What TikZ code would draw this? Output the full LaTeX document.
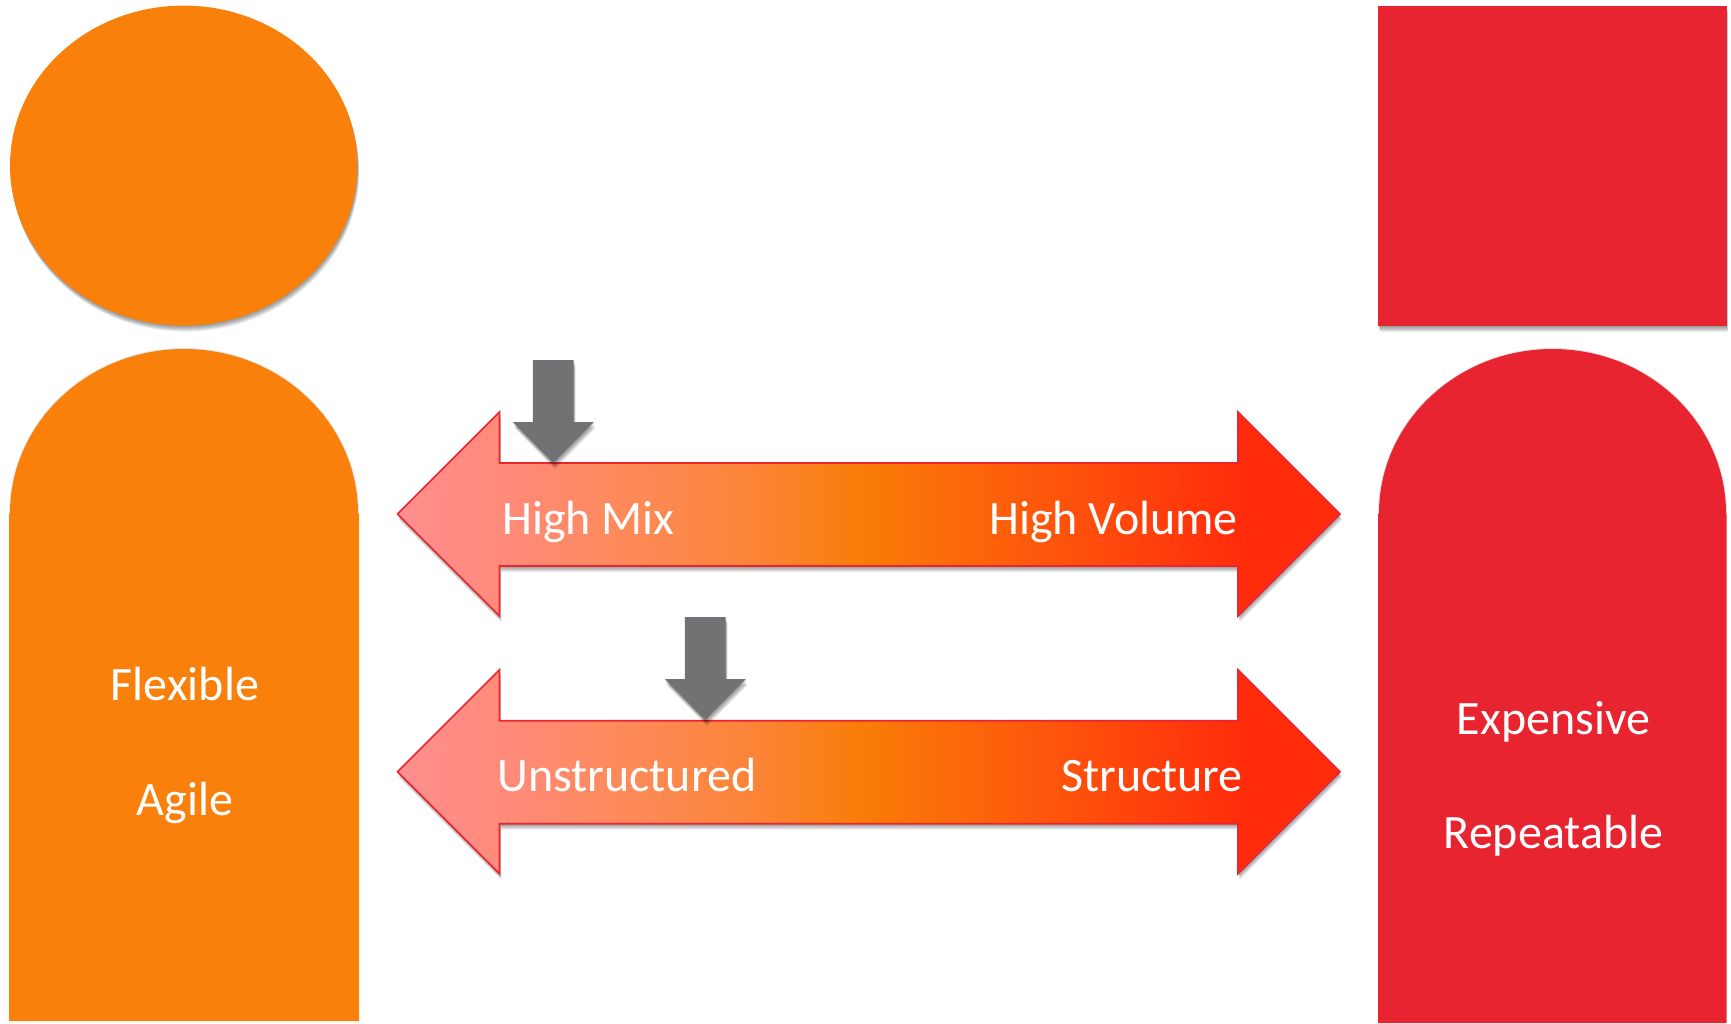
\documentclass[tikz,border=0pt]{standalone}
\usepackage{fontspec}
\setmainfont{Carlito}
\definecolor{orangefill}{HTML}{F9800A}
\definecolor{redfill}{HTML}{E92431}
\definecolor{grayfill}{HTML}{727274}
\definecolor{redline}{HTML}{EC2430}
\definecolor{gA}{HTML}{FF8F8F}
\definecolor{gB}{HTML}{FF8A78}
\definecolor{gC}{HTML}{FE8A58}
\definecolor{gD}{HTML}{FB8436}
\definecolor{gE}{HTML}{F97D08}
\definecolor{gF}{HTML}{FF4A0C}
\definecolor{gG}{HTML}{FF2B0B}
\pgfdeclarehorizontalshading{bargrad}{100bp}{
  color(0bp)=(gA); color(25bp)=(gA); color(31bp)=(gB); color(37.5bp)=(gC);
  color(44bp)=(gD); color(49.5bp)=(gE); color(62.5bp)=(gF); color(70bp)=(gG);
  color(75bp)=(gG); color(100bp)=(gG)}
\newcommand{\softshadow}[1]{%
  \foreach \k in {1,2,3,4,5,6}{%
    \fill[black,opacity=.08,shift={({0.3*\k},{\k})}] #1;}}
\newcommand{\bararrow}[1]{%
  \begin{scope}[yshift=#1]
    \softshadow{(397.5,0) -- (499.5,-102) -- (499.5,-51) -- (1238,-51) -- (1238,-102) -- (1340,0) -- (1238,102) -- (1238,52) -- (499.5,52) -- (499.5,102) -- cycle}
    \path[barstyle] (397.5,0) -- (499.5,-102) -- (499.5,-51) -- (1238,-51) -- (1238,-102) -- (1340,0) -- (1238,102) -- (1238,52) -- (499.5,52) -- (499.5,102) -- cycle;
  \end{scope}}
\newcommand{\pointer}[2]{%
  \begin{scope}[shift={(#1,#2)}]
    \softshadow{(-20.4,0) -- (20.4,0) -- (20.4,62) -- (40.5,62) -- (0,103) -- (-40.5,62) -- (-20.4,62) -- cycle}
    \path[fill=grayfill] (-20.4,0) -- (20.4,0) -- (20.4,62) -- (40.5,62) -- (0,103) -- (-40.5,62) -- (-20.4,62) -- cycle;
  \end{scope}}
\tikzset{
  barstyle/.style={shading=bargrad,draw=redline,line width=1.6pt,line join=miter},
  label/.style={text=white,inner sep=0pt,font=\fontsize{48}{57}\selectfont},
}
\begin{document}
\begin{tikzpicture}[x=1pt,y=-1pt]
\useasboundingbox (0,0) rectangle (1731,1023);
% left figure
\softshadow{(183.7,165.6) ellipse [x radius=173.7,y radius=160]}
\path[fill=orangefill] (183.7,165.6) ellipse [x radius=173.7,y radius=160];
\draw[black,opacity=.1,line width=2pt] (10,513.5) arc[start angle=180,end angle=360,x radius=174,y radius=164.5];
\path[fill=orangefill] (9,1021) -- (9,513.5) -- (10,513.5) arc[start angle=180,end angle=360,x radius=174,y radius=164.5] -- (359,513.5) -- (359,1021) -- cycle;
% right figure
\softshadow{(1378,6) rectangle (1726.5,326)}
\path[fill=redfill] (1378,6) rectangle (1726.5,326);
\draw[black,opacity=.1,line width=2pt] (1379,513.5) arc[start angle=180,end angle=360,x radius=173.5,y radius=164.5];
\path[fill=redfill] (1378,1023) -- (1378,513.5) -- (1379,513.5) arc[start angle=180,end angle=360,x radius=173.5,y radius=164.5] -- (1726.5,513.5) -- (1726.5,1023) -- cycle;
% bars
\begin{scope}[yshift=-514pt]\bararrow{0pt}\end{scope}
\begin{scope}[yshift=-771.7pt]\bararrow{0pt}\end{scope}
% pointers
\pointer{553.3}{360}
\pointer{705.3}{617}
% labels
\node[label,anchor=base west] (mix) at (502,534) {High Mix};
\node[label,anchor=base east] (vol) at (1238,534) {High Volume};
\node[label,anchor=base west] (uns) at (497,791.5) {Unstructured};
\node[label,anchor=base east] (str) at (1243,791.5) {Structure};
\node[label,anchor=base] (flex) at (185,700) {Flexible};
\node[label,anchor=base] (agile) at (185,815) {Agile};
\node[label,anchor=base] (exp) at (1553.5,734) {Expensive};
\node[label,anchor=base] (rep) at (1553.5,848) {Repeatable};
\end{tikzpicture}
\end{document}
